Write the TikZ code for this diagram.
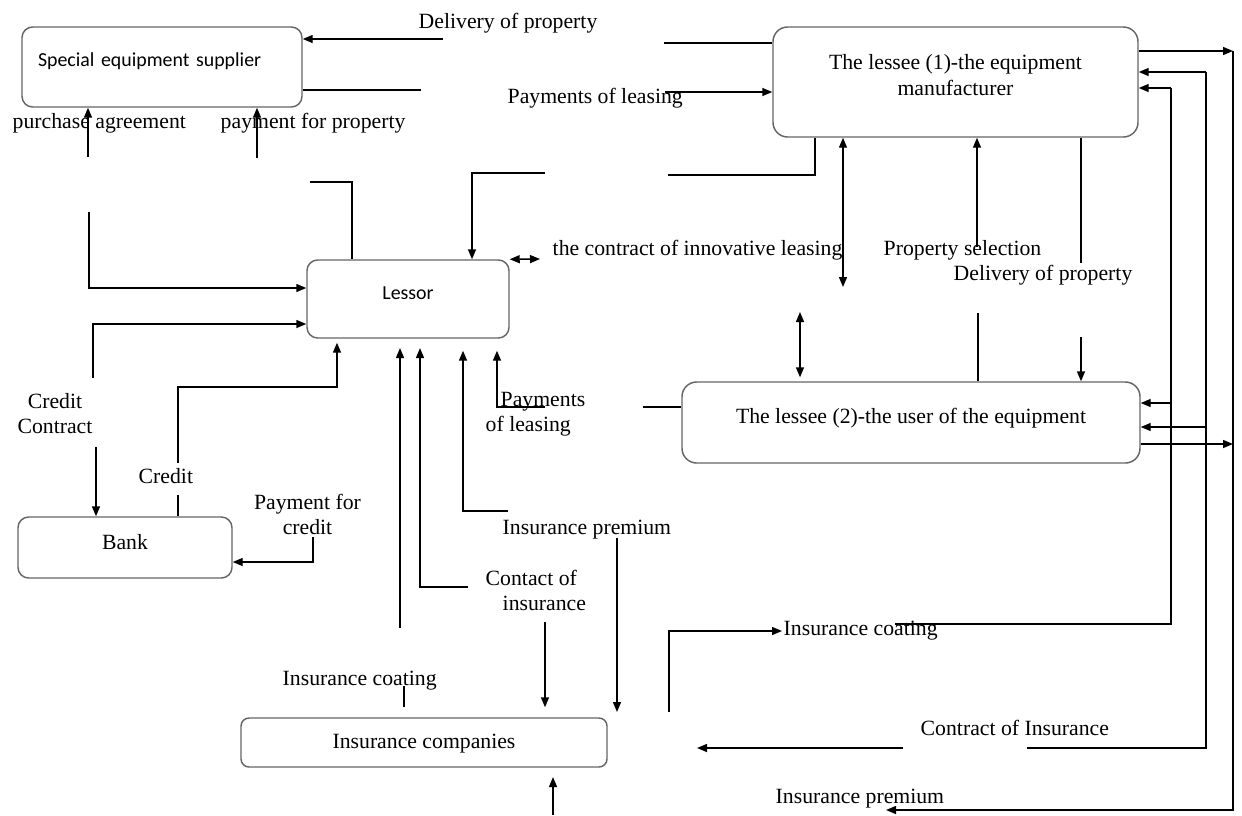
\documentclass[tikz,border=0pt]{standalone}
\usepackage{fontspec}
\setmainfont{Liberation Serif}
\newfontfamily\calibri{Carlito}
\usetikzlibrary{arrows.meta}

\tikzset{every picture/.style={line width=1.1pt}}
\tikzset{
  box/.style={draw=black!60, rounded corners=8pt, inner sep=0pt, align=center,
    text height=11pt, font=\fontsize{16.3}{19.5}\selectfont},
  sansbox/.style={box, font=\calibri\fontsize{14.9}{18}\selectfont},
  lbl/.style={inner sep=0pt, font=\fontsize{16.3}{18.75}\selectfont},
  arr/.style={-{Triangle[length=7.5pt,width=6pt]}},
  darr/.style={{Triangle[length=7.5pt,width=6pt]}-{Triangle[length=7.5pt,width=6pt]}},
}

\begin{document}
\begin{tikzpicture}[x=0.75pt,y=0.75pt,yscale=-1,xscale=1]
\useasboundingbox (0,0) rectangle (1242,815);

%Shape: Rounded Rect [supplier]
\node[sansbox, minimum width=210pt, minimum height=60pt, text width=186pt, align=left, text depth=11.9pt] (supp) at (162,67) {Special equipment supplier};
%Shape: Rounded Rect [lessee 1]
\node[box, rounded corners=11pt, minimum width=273.75pt, minimum height=82.5pt, text height=30.5pt, text depth=10.7pt] (les1) at (955.5,82) {The lessee (1)-the equipment\\manufacturer};
%Shape: Rounded Rect [lessor]
\node[sansbox, minimum width=151.5pt, minimum height=58.5pt, text depth=10.4pt] (lessor) at (408,299) {Lessor};
%Shape: Rounded Rect [lessee 2]
\node[box, rounded corners=11pt, minimum width=343.5pt, minimum height=60.75pt, text depth=10pt] (les2) at (911,422.5) {The lessee (2)-the user of the equipment};
%Shape: Rounded Rect [bank]
\node[box, minimum width=160.5pt, minimum height=45.75pt, text depth=8.4pt] (bank) at (125,547.5) {Bank};
%Shape: Rounded Rect [insurance]
\node[box, rounded corners=6pt, minimum width=274.5pt, minimum height=36.75pt, text depth=1.7pt] (ins) at (424,742.5) {Insurance companies};

%Straight Lines [supplier side]
\coordinate (dl1) at (443,39);
\draw[arr] (dl1) -- (dl1 -| supp.east);
\coordinate (dl2) at (664,43);
\draw (dl2) -- (dl2 -| les1.west);
\coordinate (pp1) at (421,90);
\draw (supp.east |- pp1) -- (pp1);
\coordinate (pl1) at (665,92);
\draw[arr] (pl1) -- (pl1 -| les1.west);
\coordinate (pa1) at (88,157);
\draw[arr] (pa1) -- (pa1 |- supp.south);
\coordinate (pf1) at (257,158);
\draw[arr] (pf1) -- (pf1 |- supp.south);

%Straight Lines [lessor top]
\coordinate (lt1) at (310,182);
\coordinate (lt2) at (352,182);
\draw (lt1) -- (lt2) -- (lt2 |- lessor.north);
\coordinate (lt3) at (545,173);
\coordinate (lt4) at (472,173);
\draw[arr] (lt3) -- (lt4) -- (lt4 |- lessor.north);
\coordinate (lt5) at (668,175);
\coordinate (lt6) at (815,175);
\draw (lt5) -- (lt6) -- (lt6 |- les1.south);

%Straight Lines [lessor left]
\coordinate (ll1) at (89,212);
\coordinate (ll2) at (89,288);
\draw[arr] (ll1) -- (ll2) -- (ll2 -| lessor.west);
\coordinate (ll3) at (93,378);
\coordinate (ll4) at (93,324);
\draw[arr] (ll3) -- (ll4) -- (ll4 -| lessor.west);

%Straight Lines [bank]
\coordinate (bk1) at (96,447);
\draw[arr] (bk1) -- (bk1 |- bank.north);
\coordinate (bk2) at (178,495);
\draw (bk2) -- (bk2 |- bank.north);
\coordinate (bk3) at (178,463);
\coordinate (bk4) at (178,387);
\coordinate (bk5) at (337,387);
\draw[arr, shorten >=3pt] (bk3) -- (bk4) -- (bk5) -- (bk5 |- lessor.south);
\coordinate (bk6) at (313,537);
\coordinate (bk7) at (313,562);
\draw[arr] (bk6) -- (bk7) -- (bk7 -| bank.east);

%Straight Lines [lessor bottom]
\coordinate (lb1) at (400,628);
\draw[arr, shorten >=7pt] (lb1) -- (lb1 |- lessor.south);
\coordinate (lb2) at (468,587);
\coordinate (lb3) at (420,587);
\draw[arr, shorten >=7pt] (lb2) -- (lb3) -- (lb3 |- lessor.south);
\coordinate (lb4) at (508,511);
\coordinate (lb5) at (463,511);
\draw[arr, shorten >=9pt] (lb4) -- (lb5) -- (lb5 |- lessor.south);
\coordinate (lb6) at (545,407);
\coordinate (lb7) at (497,407);
\draw[arr, shorten >=9pt] (lb6) -- (lb7) -- (lb7 |- lessor.south);
\coordinate (lb8) at (643,407);
\draw (lb8) -- (lb8 -| les2.west);

%Straight Lines [insurance]
\coordinate (in1) at (617,538);
\coordinate (in2) at (617,712);
\draw[arr] (in1) -- (in2);
\coordinate (in3) at (545,622);
\draw[arr, shorten >=7.5pt] (in3) -- (in3 |- ins.north);
\coordinate (in5) at (404,686);
\draw[shorten >=7.5pt] (in5) -- (in5 |- ins.north);
\coordinate (in7) at (553,815);
\draw[arr, shorten >=7pt] (in7) -- (in7 |- ins.south);

%Straight Lines [contract, selection, delivery]
\coordinate (ca2) at (540,259);
\draw[darr] (lessor.north east) -- (ca2);
\coordinate (ct1) at (843,287);
\draw[darr] (ct1 |- les1.south) -- (ct1);
\coordinate (ct2) at (800,312);
\draw[darr, shorten >=3pt] (ct2) -- (ct2 |- les2.north);
\coordinate (ps1) at (977,247);
\draw[arr] (ps1) -- (ps1 |- les1.south);
\coordinate (dp1) at (1081,263);
\draw (dp1 |- les1.south) -- (dp1);
\coordinate (ps2) at (978,313);
\draw (ps2) -- (ps2 |- les2.north);
\coordinate (dp2) at (1081,337);
\draw[arr] (dp2) -- (dp2 |- les2.north);

%Straight Lines [right side]
\coordinate (r1) at (1233,51);
\coordinate (r2) at (1233,810);
\coordinate (r3) at (886,810);
\draw[arr] (r1 -| les1.east) -- (r1);
\draw[arr] (r1) -- (r2) -- (r3);
\coordinate (r4) at (1233,444);
\draw[arr] (r4 -| les2.east) -- (r4);
\coordinate (s1) at (1206,72);
\coordinate (s2) at (1206,748);
\coordinate (s3) at (1027,748);
\draw[arr] (s1) -- (s1 -| les1.east);
\draw (s1) -- (s2) -- (s3);
\coordinate (s4) at (1206,427);
\draw[arr] (s4) -- (s4 -| les2.east);
\coordinate (s5) at (903,748);
\coordinate (s6) at (697,748);
\draw[arr] (s5) -- (s6);
\coordinate (t1) at (1171,88);
\coordinate (t2) at (1171,624);
\coordinate (t3) at (895,624);
\draw[arr] (t1) -- (t1 -| les1.east);
\draw (t1) -- (t2) -- (t3);
\coordinate (t4) at (1171,403);
\draw[arr] (t4) -- (t4 -| les2.east);
\coordinate (t5) at (669,712);
\coordinate (t6) at (669,631);
\coordinate (t7) at (782,631);
\draw[arr] (t5) -- (t6) -- (t7);

% Text Node
\node[lbl, anchor=base west] (lDel1) at (418,28) {Delivery of property};
% Text Node
\node[lbl, anchor=base west] (lPay1) at (507,103) {Payments of leasing};
% Text Node
\node[lbl, anchor=base west] (lPur) at (12,128) {purchase agreement};
% Text Node
\node[lbl, anchor=base west] (lPfp) at (220,128) {payment for property};
% Text Node
\node[lbl, anchor=base west] (lCon) at (552,255) {the contract of innovative leasing};
% Text Node
\node[lbl, anchor=base west] (lSel) at (883,255) {Property selection};
% Text Node
\node[lbl, anchor=base west] (lDel2) at (953,280) {Delivery of property};
% Text Node
\node[lbl, anchor=north, align=center] (lCrc) at (55,393) {Credit\\Contract};
% Text Node
\node[lbl, anchor=base west] (lCrd) at (138,483) {Credit};
% Text Node
\node[lbl, anchor=north, align=center] (lPfc) at (307.5,493) {Payment for\\credit};
% Text Node
\node[lbl, anchor=north west, align=left] (lPay2) at (485,392) {\hspace*{11.25pt}Payments\\of leasing};
% Text Node
\node[lbl, anchor=base west] (lPrm1) at (502,534) {Insurance premium};
% Text Node
\node[lbl, anchor=north west, align=left] (lCoi) at (485,569.5) {Contact of\\\hspace*{12.75pt}insurance};
% Text Node
\node[lbl, anchor=base west] (lCoat1) at (282,685) {Insurance coating};
% Text Node
\node[lbl, anchor=base west] (lCoat2) at (783,635) {Insurance coating};
% Text Node
\node[lbl, anchor=base west] (lCoi2) at (920,735) {Contract of Insurance};
% Text Node
\node[lbl, anchor=base west] (lPrm2) at (775,803) {Insurance premium};

\end{tikzpicture}
\end{document}
